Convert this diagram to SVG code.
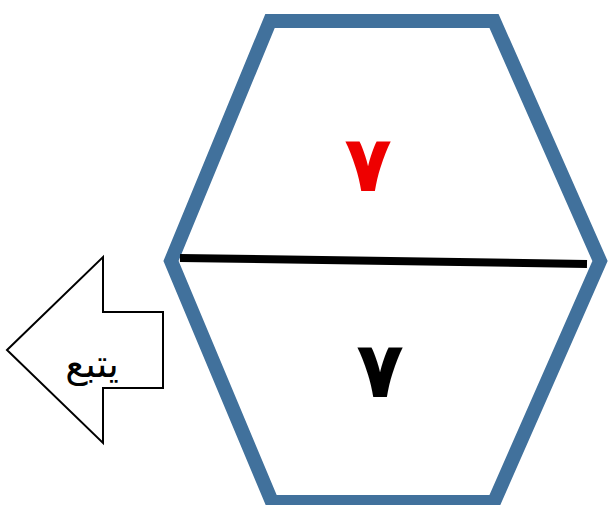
<svg xmlns="http://www.w3.org/2000/svg" width="608" height="505" viewBox="0 0 608 505">
<style>
.hex{fill:#fff;stroke:#41719c;stroke-width:14;stroke-linejoin:miter}
.num{font-family:"DejaVu Sans",sans-serif;font-weight:bold;font-size:78px;text-anchor:middle}
.lbl{font-family:"DejaVu Sans",sans-serif;font-size:38px;text-anchor:middle}
</style>
<rect width="608" height="505" fill="#fff"/>
<g id="hexagon">
<polygon class="hex" points="270,21 494,21 600,261 494,502 272,502 171,261"/>
</g>
<g id="connectors">
<line x1="180" y1="258" x2="587" y2="264" stroke="#000" stroke-width="8"/>
</g>
<g id="top-number">
<text class="num" x="368" y="191" fill="#ee0000">٧</text>
</g>
<g id="bottom-number">
<text class="num" x="380" y="397" fill="#000">٧</text>
</g>
<g id="follow-arrow">
<polygon points="7,350 103,257 103,312 163,312 163,388 103,388 103,443" fill="#fff" stroke="#000" stroke-width="2"/>
<text class="lbl" x="92" y="377">يتبع</text>
</g>
</svg>
